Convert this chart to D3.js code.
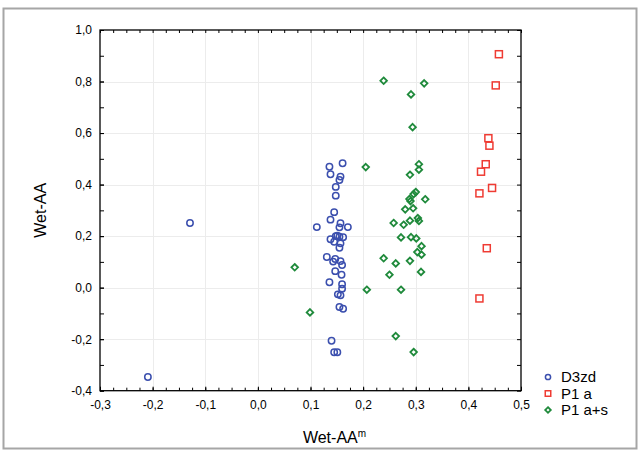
<!DOCTYPE html>
<html>
<head>
<meta charset="utf-8">
<script src="https://cdn.jsdelivr.net/npm/d3@7/dist/d3.min.js"></script>
<style>
  html, body { margin: 0; padding: 0; background: #fff; }
  svg { display: block; font-family: "Liberation Sans", Arial, sans-serif; }
</style>
</head>
<body>
<svg id="chart" width="641" height="454"></svg>
<script>
// Series names
const seriesNames = ["D3zd", "P1 a", "P1 a+s"];

// D3zd: [Wet-AAm, Wet-AA]
const d3zd = [
  [0.136, 0.469], [0.161, 0.483], [0.138, 0.440], [0.157, 0.431], [0.155, 0.418],
  [0.148, 0.391], [0.148, 0.357], [0.145, 0.293], [0.138, 0.264], [0.157, 0.250],
  [0.155, 0.234], [0.112, 0.235], [0.171, 0.235], [0.148, 0.200], [0.155, 0.198],
  [0.151, 0.202], [0.162, 0.196], [0.138, 0.188], [0.145, 0.178], [0.157, 0.172],
  [0.155, 0.155], [0.131, 0.119], [0.147, 0.111], [0.157, 0.103], [0.143, 0.101],
  [0.160, 0.088], [0.147, 0.064], [0.159, 0.050], [0.136, 0.021], [0.160, 0.013],
  [0.160, -0.004], [0.152, -0.026], [0.157, -0.030], [0.155, -0.075], [0.162, -0.082],
  [0.140, -0.206], [0.145, -0.251], [0.151, -0.251], [-0.129, 0.251], [-0.209, -0.347]
];

// P1 a
const p1a = [
  [0.458, 0.906], [0.452, 0.785], [0.438, 0.580], [0.440, 0.551], [0.433, 0.479],
  [0.424, 0.450], [0.445, 0.387], [0.421, 0.366], [0.435, 0.153], [0.421, -0.042]
];

// P1 a+s
const p1as = [
  [0.239, 0.803], [0.316, 0.793], [0.291, 0.750], [0.294, 0.623], [0.205, 0.468],
  [0.306, 0.479], [0.306, 0.458], [0.289, 0.438], [0.300, 0.371], [0.296, 0.363],
  [0.318, 0.343], [0.288, 0.344], [0.290, 0.336], [0.280, 0.304], [0.295, 0.308],
  [0.258, 0.251], [0.277, 0.244], [0.289, 0.260], [0.304, 0.270], [0.306, 0.259],
  [0.272, 0.195], [0.291, 0.196], [0.301, 0.191], [0.311, 0.161], [0.303, 0.138],
  [0.311, 0.128], [0.239, 0.114], [0.262, 0.094], [0.289, 0.104], [0.310, 0.061],
  [0.250, 0.050], [0.207, -0.008], [0.272, -0.008], [0.262, -0.188], [0.296, -0.250],
  [0.070, 0.079], [0.099, -0.096]
];

// Axis ticks
const xMajorTicks = [-0.3, -0.2, -0.1, 0.0, 0.1, 0.2, 0.3, 0.4, 0.5];
const yMajorTicks = [-0.4, -0.2, 0.0, 0.2, 0.4, 0.6, 0.8, 1.0];
const xMinorStep = 0.025;
const yMinorStep = 0.1;

const svg = d3.select("#chart");
const plotLeft = 100, plotRight = 521, plotTop = 30, plotBottom = 390.7;

const x = d3.scaleLinear().domain([-0.3, 0.5]).range([plotLeft, plotRight]);
const y = d3.scaleLinear().domain([-0.4, 1.0]).range([plotBottom, plotTop]);

const locale = d3.formatLocale({ decimal: ",", thousands: " ", grouping: [3], currency: ["", ""], minus: "-" });
const fmt = locale.format(".1f");

// Outer frame
svg.append("rect")
  .attr("x", 3.5).attr("y", 8.5).attr("width", 633).attr("height", 440)
  .attr("fill", "none").attr("stroke", "#a6a6a6").attr("stroke-width", 2);

// Grid lines
const grid = svg.append("g").attr("stroke", "#ececec").attr("stroke-width", 1);
grid.selectAll("line.gx").data(xMajorTicks.slice(1, -1)).join("line")
  .attr("x1", d => Math.round(x(d)) + 0.5).attr("x2", d => Math.round(x(d)) + 0.5)
  .attr("y1", plotTop).attr("y2", plotBottom);
grid.selectAll("line.gy").data(yMajorTicks.slice(1, -1)).join("line")
  .attr("y1", d => Math.round(y(d)) + 0.5).attr("y2", d => Math.round(y(d)) + 0.5)
  .attr("x1", plotLeft).attr("x2", plotRight);

const xMinor = d3.range(-0.3, 0.5 + 1e-9, xMinorStep);
const yMinor = d3.range(-0.4, 1.0 + 1e-9, yMinorStep);

function styleAxis(g) {
  g.select(".domain").remove();
  g.selectAll(".tick line").attr("stroke", "#000").attr("stroke-width", 1);
  g.selectAll("text").attr("font-size", 12).attr("fill", "#000")
    .attr("font-family", "'Liberation Sans', Arial, sans-serif");
}

// Bottom axis (ticks pointing inward)
svg.append("g").attr("transform", `translate(0,${plotBottom})`)
  .call(d3.axisBottom(x).tickValues(xMinor).tickSize(-3).tickFormat(""))
  .call(styleAxis);
svg.append("g").attr("transform", `translate(0,${plotBottom})`)
  .call(d3.axisBottom(x).tickValues(xMajorTicks).tickSize(-4).tickPadding(10).tickFormat(fmt))
  .call(styleAxis);

// Top axis
svg.append("g").attr("transform", `translate(0,${plotTop})`)
  .call(d3.axisTop(x).tickValues(xMinor).tickSize(-3).tickFormat(""))
  .call(styleAxis);

// Left axis
svg.append("g").attr("transform", `translate(${plotLeft},0)`)
  .call(d3.axisLeft(y).tickValues(yMinor).tickSize(-4).tickFormat(""))
  .call(styleAxis);
svg.append("g").attr("transform", `translate(${plotLeft},0)`)
  .call(d3.axisLeft(y).tickValues(yMajorTicks).tickSize(-4).tickPadding(8).tickFormat(fmt))
  .call(styleAxis);

// Right axis
svg.append("g").attr("transform", `translate(${plotRight},0)`)
  .call(d3.axisRight(y).tickValues(yMinor).tickSize(-4).tickFormat(""))
  .call(styleAxis);

// Plot frame
svg.append("rect")
  .attr("x", plotLeft).attr("y", plotTop).attr("width", plotRight - plotLeft).attr("height", plotBottom - plotTop)
  .attr("fill", "none").attr("stroke", "#000").attr("stroke-width", 1.3);

// Marker styles
const colors = { blue: "#3b4fae", red: "#ef3b33", green: "#1f8a3b" };

function circleMarker(g, cx, cy, r) {
  g.append("circle").attr("cx", cx).attr("cy", cy).attr("r", r)
    .attr("fill", "none").attr("stroke", colors.blue).attr("stroke-width", 1.5);
}
function squareMarker(g, cx, cy, s) {
  g.append("rect").attr("x", cx - s / 2).attr("y", cy - s / 2).attr("width", s).attr("height", s)
    .attr("fill", "none").attr("stroke", colors.red).attr("stroke-width", 1.5);
}
function diamondMarker(g, cx, cy, s) {
  g.append("path")
    .attr("d", `M${cx},${cy - s}L${cx + s},${cy}L${cx},${cy + s}L${cx - s},${cy}Z`)
    .attr("fill", "none").attr("stroke", colors.green).attr("stroke-width", 1.8);
}

const pts = svg.append("g");
p1as.forEach(d => diamondMarker(pts, x(d[0]), y(d[1]), 3.3));
p1a.forEach(d => squareMarker(pts, x(d[0]), y(d[1]), 7));
d3zd.forEach(d => circleMarker(pts, x(d[0]), y(d[1]), 3.2));

// Axis titles
svg.append("text")
  .attr("transform", `translate(46,${(plotTop + plotBottom) / 2}) rotate(-90)`)
  .attr("text-anchor", "middle").attr("font-size", 16).attr("fill", "#000")
  .text("Wet-AA");

const xt = svg.append("text")
  .attr("x", (plotLeft + plotRight) / 2 + 24).attr("y", 443)
  .attr("text-anchor", "middle").attr("font-size", 16).attr("fill", "#000");
xt.append("tspan").text("Wet-AA");
xt.append("tspan").attr("font-size", 10).attr("dy", -6).text("m");

// Legend
const legend = svg.append("g");
const legendY = [377, 393.5, 410];
const lx = 548;
circleMarker(legend, lx, legendY[0], 2.6);
squareMarker(legend, lx, legendY[1], 5.5);
diamondMarker(legend, lx, legendY[2], 2.8);
legend.selectAll("text").data(seriesNames).join("text")
  .attr("x", lx + 13).attr("y", (d, i) => legendY[i] + 5)
  .attr("font-size", 15).attr("fill", "#000")
  .text(d => d);
</script>
</body>
</html>
